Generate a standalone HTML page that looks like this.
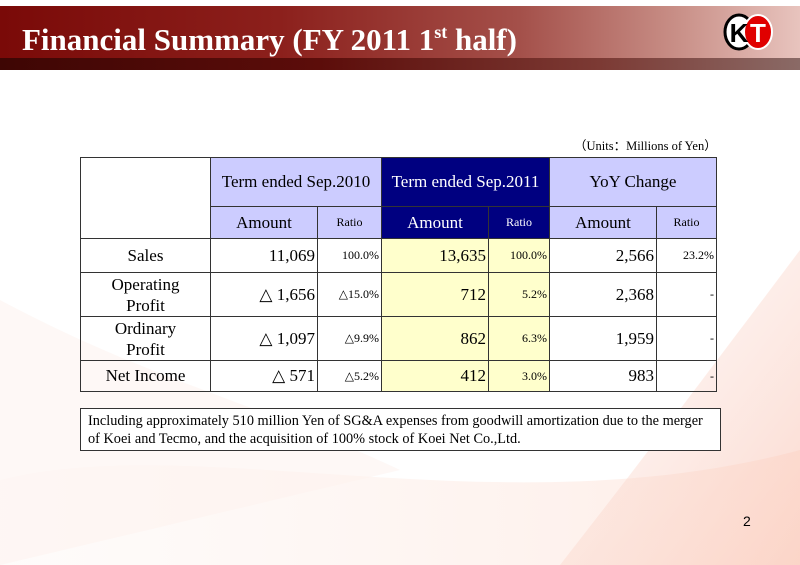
<!DOCTYPE html>
<html><head><meta charset="utf-8"><style>
body{margin:0;width:800px;height:565px;overflow:hidden;position:relative;font-family:"Liberation Serif",serif;background:#fff}
#bg{position:absolute;left:0;top:0;width:800px;height:565px}
#hdr{position:absolute;left:0;top:6px;width:800px;height:52px;background:linear-gradient(90deg,#7a0a08 0%,#8c201c 35%,#a4504a 65%,#c99088 85%,#e8c4be 100%)}
#hdr2{position:absolute;left:0;top:58px;width:800px;height:12px;background:linear-gradient(90deg,#3e0604 0%,#5c0d0a 40%,#7c3a34 75%,#8a6a66 100%)}
#title{position:absolute;left:22px;top:22px;color:#fff;font-weight:bold;font-size:31px;line-height:36px}
#title sup{font-size:18px;vertical-align:12px;line-height:0}
#logo{position:absolute;left:722px;top:12px}
#units{position:absolute;left:574px;top:135px;font-size:12.5px;color:#000}
table{position:absolute;left:80px;top:157px;border-collapse:collapse;table-layout:fixed}
td{border:1.5px solid #333;padding:0 2px;font-size:17px;color:#000}
.h1{background:#ccccff;text-align:center}
.hd{background:#000080;color:#fff;text-align:center}
.r{text-align:right}
.y{background:#ffffcc}
.s{font-size:12px}
.c{text-align:center}
#note{position:absolute;left:80px;top:408px;border:1.5px solid #333;background:#fff;font-size:14.3px;line-height:18px;padding:3px 0 0 7px;box-sizing:border-box;width:641px;height:43px}
#pg{position:absolute;left:743px;top:513px;font-family:"Liberation Sans",sans-serif;font-size:14px}
</style></head><body>
<svg id="bg" width="800" height="565">
<defs><linearGradient id="g1" x1="0" y1="0" x2="1" y2="1"><stop offset="0" stop-color="#fbd6cc" stop-opacity="0.1"/><stop offset="1" stop-color="#f6a890" stop-opacity="0.45"/></linearGradient>
<linearGradient id="g2" x1="0" y1="0" x2="1" y2="0"><stop offset="0" stop-color="#fdeee8" stop-opacity="0.2"/><stop offset="1" stop-color="#fbd0c0" stop-opacity="0.4"/></linearGradient></defs>
<path d="M560 565 C650 450 740 330 800 250 L800 565 Z" fill="url(#g1)"/>
<path d="M0 480 C200 430 500 530 800 450 L800 565 L0 565 Z" fill="url(#g2)"/>
<path d="M0 300 C150 380 250 400 400 470 L0 565Z" fill="#fdf2ee" opacity="0.5"/>
</svg>
<div id="hdr"></div>
<div id="hdr2"></div>
<div id="title">Financial Summary (FY 2011 1<sup>st</sup> half)</div>
<svg id="logo" width="54" height="40">
<ellipse cx="17" cy="20" rx="14" ry="17" fill="#fff" stroke="#000" stroke-width="3"/>
<ellipse cx="36" cy="20" rx="14" ry="17" fill="#e00000" stroke="#fff" stroke-width="2"/>
<text x="17" y="30" font-family="Liberation Sans" font-weight="bold" font-size="26" text-anchor="middle" fill="#000">K</text>
<text x="36" y="30" font-family="Liberation Sans" font-weight="bold" font-size="26" text-anchor="middle" fill="#fff">T</text>
</svg>
<div id="units">（Units：Millions of Yen）</div>
<table>
<colgroup><col style="width:130px"><col style="width:107px"><col style="width:64px"><col style="width:107px"><col style="width:61px"><col style="width:107px"><col style="width:60px"></colgroup>
<tr style="height:49px"><td rowspan="2" style="background:#fff"></td><td colspan="2" class="h1">Term ended Sep.2010</td><td colspan="2" class="hd">Term ended Sep.2011</td><td colspan="2" class="h1">YoY Change</td></tr>
<tr style="height:32px"><td class="h1">Amount</td><td class="h1 s">Ratio</td><td class="hd">Amount</td><td class="hd s">Ratio</td><td class="h1">Amount</td><td class="h1 s">Ratio</td></tr>
<tr style="height:34px"><td class="c">Sales</td><td class="r">11,069</td><td class="r s">100.0%</td><td class="r y">13,635</td><td class="r y s">100.0%</td><td class="r">2,566</td><td class="r s">23.2%</td></tr>
<tr style="height:44px"><td class="c" style="line-height:21px">Operating<br>Profit</td><td class="r">△ 1,656</td><td class="r s">△15.0%</td><td class="r y">712</td><td class="r y s">5.2%</td><td class="r">2,368</td><td class="r s">-</td></tr>
<tr style="height:44px"><td class="c" style="line-height:21px">Ordinary<br>Profit</td><td class="r">△ 1,097</td><td class="r s">△9.9%</td><td class="r y">862</td><td class="r y s">6.3%</td><td class="r">1,959</td><td class="r s">-</td></tr>
<tr style="height:31px"><td class="c">Net Income</td><td class="r">△ 571</td><td class="r s">△5.2%</td><td class="r y">412</td><td class="r y s">3.0%</td><td class="r">983</td><td class="r s">-</td></tr>
</table>
<div id="note">Including approximately 510 million Yen of SG&amp;A expenses from goodwill amortization due to the merger<br>of Koei and Tecmo, and the acquisition of 100% stock of Koei Net Co.,Ltd.</div>
<div id="pg">2</div>
</body></html>
